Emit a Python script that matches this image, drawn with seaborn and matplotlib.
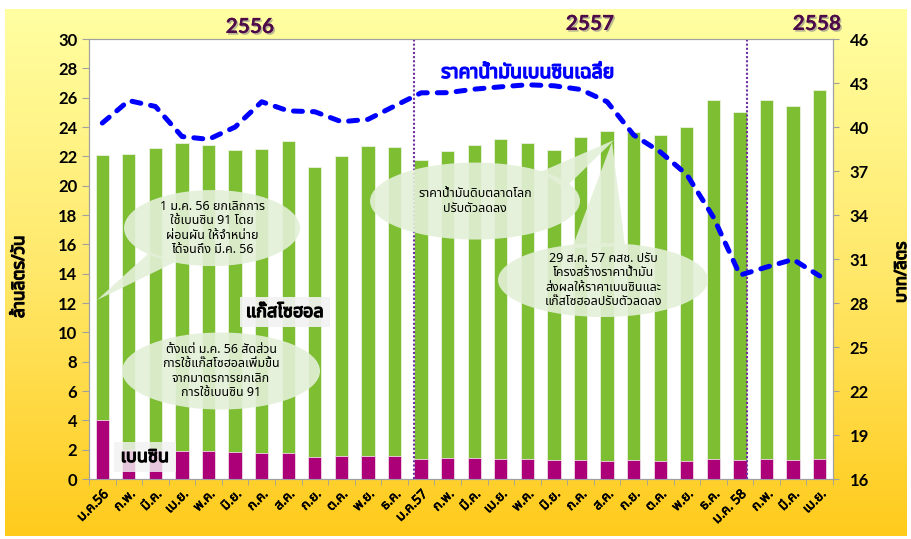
import numpy as np
import pandas as pd
import matplotlib
matplotlib.use('Agg')
import matplotlib.pyplot as plt
import matplotlib.patheffects as pe
import seaborn as sns
from matplotlib import font_manager
from matplotlib.ft2font import FT2Font
from matplotlib.patches import Ellipse, Polygon

# ---- data ----
months = ['ม.ค.56', 'ก.พ.', 'มี.ค.', 'เม.ย.', 'พ.ค.', 'มิ.ย.', 'ก.ค.', 'ส.ค.', 'ก.ย.', 'ต.ค.', 'พ.ย.', 'ธ.ค.',
          'ม.ค.57', 'ก.พ.', 'มี.ค.', 'เม.ย.', 'พ.ค.', 'มิ.ย.', 'ก.ค.', 'ส.ค.', 'ก.ย.', 'ต.ค.', 'พ.ย.', 'ธ.ค.',
          'ม.ค. 58', 'ก.พ.', 'มี.ค.', 'เม.ย.']
# total = gasohol + benzine (million litres / day)
total = [22.1, 22.15, 22.6, 22.9, 22.75, 22.45, 22.5, 23.05, 21.3, 22.0, 22.7, 22.65,
         21.75, 22.35, 22.75, 23.2, 22.9, 22.45, 23.3, 23.7, 23.65, 23.45, 24.0, 25.85,
         25.05, 25.85, 25.4, 26.55]
benzine = [4.0, 2.0, 2.0, 1.9, 1.9, 1.84, 1.8, 1.8, 1.5, 1.59, 1.59, 1.57,
           1.36, 1.43, 1.43, 1.39, 1.34, 1.3, 1.3, 1.23, 1.3, 1.23, 1.23, 1.36,
           1.32, 1.36, 1.32, 1.36]
# average benzine price (baht / litre)
price = [40.27, 41.8, 41.4, 39.35, 39.16, 40.0, 41.72, 41.1, 41.04, 40.36, 40.52, 41.43,
         42.33, 42.34, 42.58, 42.74, 42.88, 42.81, 42.56, 41.72, 39.45, 38.3, 36.75, 33.85,
         29.9, 30.45, 30.97, 29.84]
years = ['2556', '2557', '2558']

df = pd.DataFrame({'idx': range(len(months)), 'total': total, 'benzine': benzine, 'price': price})


def find_thai_font():
    prefer = ['Noto Sans Thai', 'Noto Sans Thai UI', 'Loma', 'Garuda', 'Tahoma', 'Leelawadee UI', 'Sarabun']
    found = []
    for f in font_manager.fontManager.ttflist:
        try:
            if FT2Font(f.fname).get_char_index(ord('ก')):
                found.append(f.name)
        except Exception:
            pass
    for p in prefer:
        if p in found:
            return p
    return found[0] if found else 'DejaVu Sans'


thai = find_thai_font()
plt.rcParams['font.family'] = [thai, 'DejaVu Sans']

GREEN = '#7DBE33'
MAGENTA = '#AB0078'
PURPLE = '#7030A0'
BUBBLE = '#E4F0D8'


def bold(w=0.8, c='black'):
    # fake bold for fonts without a bold face
    return [pe.withStroke(linewidth=w, foreground=c)]


fig = plt.figure(figsize=(9.12, 5.39), dpi=100)

# yellow gradient background
bg = fig.add_axes([0.006, 0.006, 0.988, 0.977], zorder=-10)
grad = np.linspace(0, 1, 256).reshape(-1, 1)
cmap = matplotlib.colors.LinearSegmentedColormap.from_list('yl', ['#FFCB1C', '#FFE86A', '#FFFFA2'])
bg.imshow(grad, aspect='auto', cmap=cmap, origin='lower', extent=[0, 1, 0, 1])
bg.axis('off')

W, H = 912, 539
ax = fig.add_axes([89 / W, 60 / H, 744 / W, 440 / H])
ax.set_facecolor('white')

sns.barplot(data=df, x='idx', y='total', color=GREEN, saturation=1, width=0.5,
            edgecolor='#EAF3E0', linewidth=0.6, ax=ax, zorder=2)
sns.barplot(data=df, x='idx', y='benzine', color=MAGENTA, saturation=1, width=0.5,
            edgecolor='#F2D9EA', linewidth=0.6, ax=ax, zorder=3)

ax.set_xlim(-0.5, len(months) - 0.5)
ax.set_ylim(0, 30)
ax.set_yticks(range(0, 31, 2))
ax.set_xticks(range(len(months)))
ax.set_xticklabels(months, rotation=45, ha='right', rotation_mode='anchor', fontsize=9.5)
for t in ax.get_xticklabels():
    t.set_path_effects(bold(0.5))
ax.set_xticks(np.arange(-0.5, len(months)), minor=True)
ax.tick_params(axis='x', which='major', length=0, pad=6)
ax.tick_params(axis='x', which='minor', length=4, color='#A0A0A0')
ax.tick_params(axis='y', length=5, color='#A0A0A0', labelsize=12)
for t in ax.get_yticklabels():
    t.set_fontfamily('Lato')
    t.set_fontweight('bold')
ax.set_xlabel('')
ax.set_ylabel('ล้านลิตร/วัน', fontsize=12.5, path_effects=bold(0.9))
ax.yaxis.set_label_coords(-0.082, 0.46)
for s in ax.spines.values():
    s.set_color('#A0A0A0')

for xv in [11.75, 24.25]:
    ax.axvline(xv, color=PURPLE, ls=(0, (1, 1)), lw=1.5, zorder=4)


# callout bubbles
def px(x, y):
    return ((x - 89) / 26.57 - 0.5, (479 - y) / 14.67)


def bubble(cx, cy, w, h, tail, text):
    c = px(cx, cy)
    ax.add_patch(Ellipse(c, w / 26.57, h / 14.67, facecolor=BUBBLE, edgecolor='none', alpha=0.9, zorder=5))
    if tail:
        ax.add_patch(Polygon([px(*p) for p in tail], closed=True, facecolor=BUBBLE,
                             edgecolor='none', alpha=0.9, zorder=5))
    ax.text(c[0], c[1], text, ha='center', va='center', fontsize=9, linespacing=1.15, zorder=6)


bubble(212, 228, 176, 76, [(150, 252), (97, 300), (175, 262)],
       '1 ม.ค. 56 ยกเลิกการ\nใช้เบนซิน 91 โดย\nผ่อนผัน ให้จำหน่าย\nได้จนถึง มี.ค. 56')
bubble(221, 371, 198, 77, None,
       'ตั้งแต่ ม.ค. 56 สัดส่วน\nการใช้แก๊สโซฮอลเพิ่มขึ้น\nจากมาตรการยกเลิก\nการใช้เบนซิน 91')
bubble(475, 201, 210, 77, [(540, 172), (614, 140), (565, 188)],
       'ราคาน้ำมันดิบตลาดโลก\nปรับตัวลดลง')
bubble(603, 280, 210, 74, [(572, 248), (612, 142), (625, 246)],
       '29 ส.ค. 57 คสช. ปรับ\nโครงสร้างราคาน้ำมัน\nส่งผลให้ราคาเบนซินและ\nแก๊สโซฮอลปรับตัวลดลง')

ax.text(*px(285, 312), 'แก๊สโซฮอล', ha='center', va='center', fontsize=13, zorder=7,
        path_effects=bold(0.9),
        bbox=dict(boxstyle='square,pad=0.35', facecolor='#F2F2F2', edgecolor='none', alpha=0.92))
ax.text(*px(145, 457), 'เบนซิน', ha='center', va='center', fontsize=13, zorder=7,
        path_effects=bold(0.9),
        bbox=dict(boxstyle='square,pad=0.35', facecolor='#F2F2F2', edgecolor='none', alpha=0.82))

# price line on right axis
ax2 = ax.twinx()
sns.lineplot(data=df, x='idx', y='price', ax=ax2, color='#0000FF', lw=3.6,
             linestyle=(0, (1.8, 2.0)), dash_capstyle='round', zorder=8)
ax2.set_ylim(16, 46)
ax2.set_yticks(range(16, 47, 3))
ax2.tick_params(axis='y', length=4, color='#A0A0A0', labelsize=12, pad=8)
for t in ax2.get_yticklabels():
    t.set_fontfamily('Lato')
    t.set_fontweight('bold')
ax2.set_ylabel('บาท/ลิตร', fontsize=12, path_effects=bold(0.9))
ax2.yaxis.set_label_coords(1.082, 0.47)
for s in ax2.spines.values():
    s.set_color('#A0A0A0')
ax2.set_xlim(-0.5, len(months) - 0.5)

ax2.text((528 - 89) / 744, (479 - 73) / 440, 'ราคาน้ำมันเบนซินเฉลี่ย', transform=ax2.transAxes,
         ha='center', va='center', fontsize=14, color='#0000FF', zorder=9,
         path_effects=bold(1.0, '#0000FF'))

shadow = [pe.withSimplePatchShadow(offset=(1.2, -1.2), shadow_rgbFace='#888888', alpha=0.6), pe.Normal()]
for label, (x, y) in zip(years, [(250, 27), (590, 24), (817, 24)]):
    fig.text(x / W, 1 - y / H, label, ha='center', va='center', fontsize=15, fontweight='bold',
             family='Lato', color='#4E0B4A', path_effects=shadow)

fig.savefig('out.png', dpi=100)
